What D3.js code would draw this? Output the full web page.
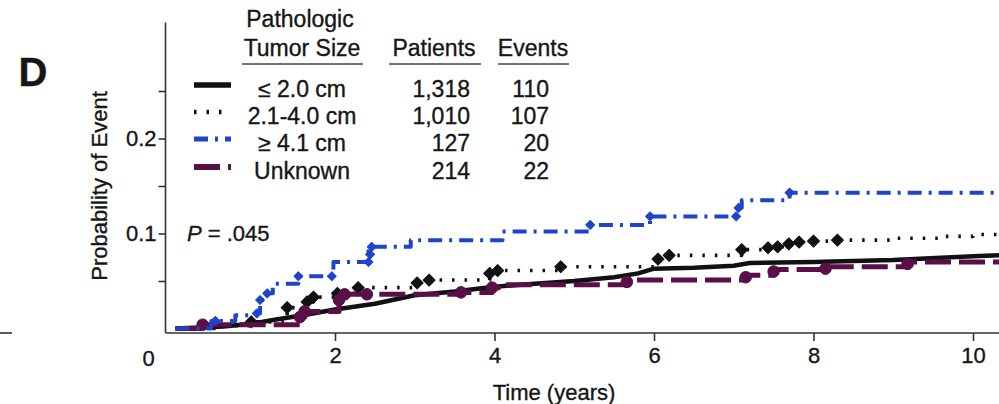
<!DOCTYPE html>
<html><head><meta charset="utf-8">
<script src="https://cdn.jsdelivr.net/npm/d3@7"></script>
<style>
body{margin:0;background:#fff}
svg{display:block;background:#fff}
text{font-family:"Liberation Sans",Arial,Helvetica,sans-serif;fill:#161616;stroke:#161616;stroke-width:0.35px}
</style>
</head><body>
<svg id="chart" width="999" height="404"></svg>
<script>
// ---------- data ----------
const timeTicks = [2, 4, 6, 8, 10];
const probTicks = [0.05, 0.1, 0.15, 0.2, 0.25];
const probTickLabels = ["", "0.1", "", "0.2", ""];
const groups = ["\u2264 2.0 cm", "2.1-4.0 cm", "\u2265 4.1 cm", "Unknown"];
const patients = ["1,318", "1,010", "127", "214"];
const events = ["110", "107", "20", "22"];
const pText = ["P", " = .045"];

// <= 2.0 cm (solid)
const smallT = [0, 0.6, 0.95, 1.3, 1.6, 2.0, 2.5, 3.0, 3.5, 4.0, 4.5, 5.0, 5.5, 5.8, 6.0, 6.5, 7.0, 7.2, 8.0, 9.0, 10.0, 10.33];
const smallV = [0, 0.002, 0.005, 0.010, 0.014, 0.020, 0.026, 0.035, 0.039, 0.044, 0.047, 0.050, 0.054, 0.058, 0.063, 0.064, 0.066, 0.069, 0.070, 0.072, 0.076, 0.077];
const smallMarkT = [];
const smallMarkV = [];

// 2.1-4.0 cm (dotted)
const midT = [0, 0.6, 0.95, 1.4, 1.65, 1.73, 2.03, 2.29, 3.03, 3.18, 3.94, 4.04, 4.83, 6.05, 6.19, 7.1, 7.43, 7.55, 7.69, 7.82, 8.0, 8.3, 9.0, 9.6, 10.0, 10.33];
const midV = [0, 0.003, 0.007, 0.022, 0.028, 0.033, 0.037, 0.043, 0.048, 0.051, 0.058, 0.061, 0.065, 0.073, 0.077, 0.083, 0.085, 0.086, 0.089, 0.091, 0.092, 0.093, 0.095, 0.097, 0.099, 0.100];
const midMarkT = [0.95, 1.4, 1.65, 1.73, 2.03, 2.29, 3.03, 3.18, 3.94, 4.04, 4.83, 6.05, 6.19, 7.1, 7.43, 7.55, 7.69, 7.82, 8.0, 8.3];
const midMarkV = [0.007, 0.022, 0.028, 0.033, 0.037, 0.043, 0.048, 0.051, 0.058, 0.061, 0.065, 0.073, 0.077, 0.083, 0.085, 0.086, 0.089, 0.091, 0.092, 0.093];

// >= 4.1 cm (dash-dot)
const largeT = [0, 0.45, 0.75, 1.02, 1.06, 1.15, 1.22, 1.54, 1.98, 2.42, 2.95, 4.1, 5.2, 5.95, 7.05, 7.1, 7.7, 10.33];
const largeV = [0, 0.008, 0.014, 0.016, 0.030, 0.037, 0.047, 0.055, 0.070, 0.086, 0.093, 0.102, 0.109, 0.118, 0.127, 0.135, 0.143, 0.143];
const largeMarkT = [0.5, 1.02, 1.06, 1.15, 1.54, 1.96, 2.42, 2.44, 2.46, 5.2, 5.95, 7.03, 7.06, 7.7];
const largeMarkV = [0.008, 0.016, 0.030, 0.037, 0.055, 0.055, 0.070, 0.078, 0.086, 0.109, 0.118, 0.118, 0.127, 0.143];

// Unknown (dashed)
const unkT = [0, 0.34, 1.56, 1.62, 2.05, 2.12, 3.58, 3.97, 4.05, 5.66, 7.15, 7.5, 8.15, 9.18, 10.33];
const unkV = [0, 0.004, 0.012, 0.018, 0.030, 0.036, 0.038, 0.043, 0.046, 0.051, 0.056, 0.062, 0.065, 0.070, 0.070];
const unkMarkT = [0.34, 1.56, 1.62, 2.05, 2.12, 2.4, 3.58, 3.97, 5.66, 7.15, 7.5, 8.15, 9.18];
const unkMarkV = [0.004, 0.012, 0.018, 0.030, 0.036, 0.036, 0.038, 0.043, 0.049, 0.054, 0.060, 0.063, 0.068];

// ---------- layout / style ----------
const svg = d3.select("#chart");
const x = d3.scaleLinear().domain([0, 10]).range([175.5, 973]);
const y = d3.scaleLinear().domain([0, 0.32]).range([328.5, 24.5]);
const xAxisY = 333, yAxisX = 165.5;
const axisColor = "#333";
const diamond = d3.symbolSquare; // rotated 45deg below

const series = [
  {t: smallT, v: smallV, mt: smallMarkT, mv: smallMarkV, color: "#111", width: 4.5, dash: null, curve: d3.curveLinear, sym: diamond, rot: 45, ms: 70},
  {t: midT, v: midV, mt: midMarkT, mv: midMarkV, color: "#111", width: 3.6, dash: "2.5,10", curve: d3.curveStepAfter, sym: diamond, rot: 45, ms: 72},
  {t: unkT, v: unkV, mt: unkMarkT, mv: unkMarkV, color: "#5b0f48", width: 5, dash: "26,8", curve: d3.curveStepAfter, sym: d3.symbolCircle, rot: 0, ms: 105},
  {t: largeT, v: largeV, mt: largeMarkT, mv: largeMarkV, color: "#1f44cc", width: 4, dash: "14,7,3,7", curve: d3.curveStepAfter, sym: diamond, rot: 45, ms: 40}
];
const legendOrder = [0, 1, 3, 2];

// fragment of neighbouring panel's axis at the far left
svg.append("line").attr("x1", 0).attr("x2", 12).attr("y1", xAxisY).attr("y2", xAxisY)
  .attr("stroke", axisColor).attr("stroke-width", 1.6);

// axes spines
svg.append("line").attr("x1", yAxisX).attr("x2", yAxisX).attr("y1", y(0.32) - 2).attr("y2", xAxisY)
  .attr("stroke", axisColor).attr("stroke-width", 1.6);
svg.append("line").attr("x1", yAxisX).attr("x2", 999).attr("y1", xAxisY).attr("y2", xAxisY)
  .attr("stroke", axisColor).attr("stroke-width", 1.6);

// y axis ticks
const yAx = svg.append("g").attr("transform", `translate(${yAxisX},0)`)
  .call(d3.axisLeft(y).tickValues(probTicks).tickSize(7).tickPadding(2)
    .tickFormat((d, i) => probTickLabels[i]));
yAx.select(".domain").remove();
yAx.selectAll(".tick line").attr("stroke", axisColor).attr("stroke-width", 1.6);
yAx.selectAll(".tick text").style("font-size", "22px").attr("fill", "#161616")
  .style("font-family", '"Liberation Sans",Arial,sans-serif');

// x axis ticks
const xAx = svg.append("g").attr("transform", `translate(0,${xAxisY})`)
  .call(d3.axisBottom(x).tickValues(timeTicks).tickSize(8).tickPadding(6).tickFormat(d3.format("d")));
xAx.select(".domain").remove();
xAx.selectAll(".tick line").attr("stroke", axisColor).attr("stroke-width", 1.6);
xAx.selectAll(".tick text").style("font-size", "22px").attr("fill", "#161616")
  .style("font-family", '"Liberation Sans",Arial,sans-serif');
svg.append("text").attr("x", x(0) - 27).attr("y", 366).attr("text-anchor", "middle")
  .style("font-size", "22px").text("0");

// axis titles
svg.append("text").attr("x", 554).attr("y", 400).attr("text-anchor", "middle")
  .style("font-size", "22px").text("Time (years)");
svg.append("text").attr("transform", "translate(107,186) rotate(-90)").attr("text-anchor", "middle")
  .style("font-size", "22px").text("Probability of Event");

// panel letter
svg.append("text").attr("x", 33).attr("y", 86).attr("text-anchor", "middle")
  .style("font-size", "40px").style("font-weight", "bold").text("D");

// P value
const pt = svg.append("text").attr("x", 187).attr("y", 241).style("font-size", "22px");
pt.append("tspan").style("font-style", "italic").text(pText[0]);
pt.append("tspan").text(pText[1]);

// curves
const plot = svg.append("g");
series.forEach(s => {
  const pts = s.t.map((t, i) => [t, s.v[i]]);
  const line = d3.line().x(d => x(d[0])).y(d => y(d[1])).curve(s.curve);
  plot.append("path").attr("d", line(pts)).attr("fill", "none")
    .attr("stroke", s.color).attr("stroke-width", s.width)
    .attr("stroke-dasharray", s.dash).attr("stroke-linejoin", "round");
  plot.selectAll(null).data(s.mt.map((t, i) => [t, s.mv[i]])).join("path")
    .attr("transform", d => `translate(${x(d[0])},${y(d[1])}) rotate(${s.rot})`)
    .attr("d", d3.symbol(s.sym, s.ms)).attr("fill", s.color)
    .attr("stroke", s.color).attr("stroke-width", 1).attr("stroke-linejoin", "round");
});

// legend
const lg = svg.append("g");
const hdrSize = "23px";
lg.append("text").attr("x", 300).attr("y", 27).attr("text-anchor", "middle").style("font-size", hdrSize).text("Pathologic");
lg.append("text").attr("x", 302).attr("y", 56).attr("text-anchor", "middle").style("font-size", hdrSize).text("Tumor Size");
lg.append("text").attr("x", 434).attr("y", 56).attr("text-anchor", "middle").style("font-size", hdrSize).text("Patients");
lg.append("text").attr("x", 533).attr("y", 56).attr("text-anchor", "middle").style("font-size", hdrSize).text("Events");
[[242, 363], [389, 481], [498, 569]].forEach(r => {
  lg.append("line").attr("x1", r[0]).attr("x2", r[1]).attr("y1", 64).attr("y2", 64)
    .attr("stroke", "#444").attr("stroke-width", 1.5);
});
const rowY = [89, 116, 143, 171];
groups.forEach((g, i) => {
  const s = series[legendOrder[i]];
  lg.append("line").attr("x1", 194).attr("x2", 231).attr("y1", rowY[i] - 4).attr("y2", rowY[i] - 4)
    .attr("stroke", s.color).attr("stroke-width", s.width + 1)
    .attr("stroke-dasharray", s.dash);
  lg.append("text").attr("x", 302).attr("y", rowY[i] + 8).attr("text-anchor", "middle").style("font-size", hdrSize).text(g);
  lg.append("text").attr("x", 470).attr("y", rowY[i] + 8).attr("text-anchor", "end").style("font-size", hdrSize).text(patients[i]);
  lg.append("text").attr("x", 549).attr("y", rowY[i] + 8).attr("text-anchor", "end").style("font-size", hdrSize).text(events[i]);
});
</script>
</body></html>
